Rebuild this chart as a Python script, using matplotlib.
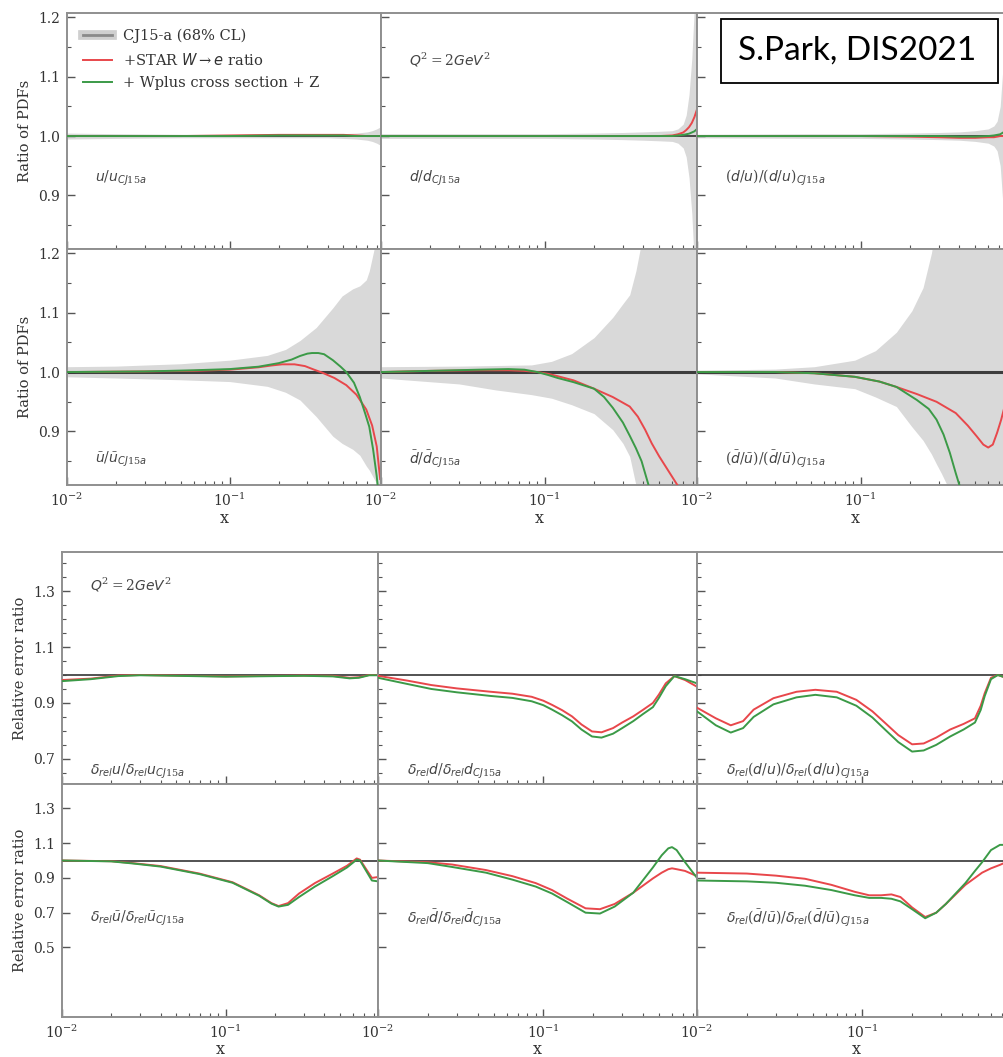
import matplotlib
matplotlib.use('Agg')
import matplotlib.pyplot as plt
from matplotlib.ticker import MultipleLocator, FixedLocator, LogLocator, NullFormatter, FormatStrFormatter
from matplotlib.lines import Line2D
from matplotlib.patches import Rectangle

# ---------------- data ----------------
# Row 1 : u / u_CJ15a
X_U = [0.01, 0.02, 0.05, 0.1, 0.2, 0.3, 0.4, 0.5, 0.6, 0.7, 0.75, 0.8, 0.85]
U_BAND_UP = [1.005, 1.004, 1.003, 1.003, 1.003, 1.003, 1.003, 1.004, 1.005, 1.007, 1.009, 1.012, 1.016]
U_BAND_LO = [0.995, 0.996, 0.997, 0.997, 0.997, 0.997, 0.997, 0.996, 0.995, 0.993, 0.991, 0.988, 0.984]
U_RED = [1.0, 1.0, 1.0, 1.001, 1.002, 1.002, 1.002, 1.002, 1.001, 1.0, 1.0, 1.0, 1.0]
U_GREEN = [1.0, 1.0, 1.0, 1.0, 1.001, 1.001, 1.001, 1.001, 1.0, 1.0, 1.0, 1.0, 1.0]

# Row 1 : d / d_CJ15a
X_D = [0.01, 0.05, 0.1, 0.2, 0.3, 0.4, 0.5, 0.6, 0.65, 0.7, 0.73, 0.76, 0.79, 0.82, 0.85]
D_BAND_UP = [1.004, 1.004, 1.004, 1.005, 1.006, 1.007, 1.008, 1.009, 1.012, 1.02, 1.035, 1.07, 1.13, 1.22, 1.4]
D_BAND_LO = [0.996, 0.996, 0.996, 0.995, 0.994, 0.993, 0.992, 0.991, 0.988, 0.98, 0.965, 0.93, 0.87, 0.78, 0.6]
D_RED = [1.0, 1.0, 1.0, 1.0, 1.0, 1.0, 1.0, 1.001, 1.003, 1.006, 1.01, 1.015, 1.022, 1.032, 1.045]
D_GREEN = [1.0, 1.0, 1.0, 1.0, 1.0, 1.0, 1.0, 1.0, 1.001, 1.002, 1.003, 1.004, 1.006, 1.008, 1.012]

# Row 1 : (d/u) / (d/u)_CJ15a
X_DU = [0.01, 0.05, 0.1, 0.2, 0.3, 0.4, 0.5, 0.6, 0.65, 0.68, 0.71, 0.74, 0.77, 0.8, 0.85]
DU_BAND_UP = [1.003, 1.004, 1.004, 1.005, 1.006, 1.007, 1.009, 1.012, 1.017, 1.025, 1.05, 1.12, 1.23, 1.35, 1.5]
DU_BAND_LO = [0.997, 0.996, 0.996, 0.995, 0.994, 0.993, 0.991, 0.988, 0.983, 0.975, 0.95, 0.88, 0.77, 0.65, 0.5]
DU_RED = [1.0, 1.0, 1.0, 0.999, 0.998, 0.997, 0.997, 0.998, 0.998, 0.999, 1.0, 1.0, 1.002, 1.004, 1.006]
DU_GREEN = [1.0, 1.0, 1.0, 1.0, 1.0, 0.999, 0.999, 1.0, 1.001, 1.002, 1.003, 1.006, 1.009, 1.012, 1.015]

# Row 2 : ubar
X_UB_BAND = [0.01, 0.02, 0.05, 0.1, 0.17, 0.22, 0.27, 0.34, 0.43, 0.49, 0.57, 0.63, 0.69, 0.72, 0.79, 0.85]
UB_BAND_UP = [1.009, 1.01, 1.014, 1.02, 1.028, 1.038, 1.053, 1.075, 1.108, 1.128, 1.14, 1.145, 1.155, 1.17, 1.22, 1.3]
UB_BAND_LO = [0.992, 0.99, 0.987, 0.984, 0.976, 0.966, 0.953, 0.925, 0.892, 0.88, 0.87, 0.86, 0.842, 0.835, 0.815, 0.8]
X_UB_RED = [0.01, 0.03, 0.06, 0.1, 0.15, 0.18, 0.21, 0.25, 0.29, 0.33, 0.37, 0.44, 0.52, 0.6, 0.69, 0.75, 0.8, 0.84]
UB_RED = [1.0, 1.001, 1.002, 1.004, 1.008, 1.011, 1.013, 1.013, 1.01, 1.004, 0.999, 0.99, 0.978, 0.962, 0.937, 0.91, 0.875, 0.82]
X_UB_GREEN = [0.01, 0.03, 0.06, 0.1, 0.15, 0.2, 0.24, 0.27, 0.3, 0.32, 0.35, 0.38, 0.43, 0.48, 0.52, 0.58, 0.63, 0.68, 0.72, 0.76, 0.8, 0.83]
UB_GREEN = [1.0, 1.001, 1.003, 1.005, 1.009, 1.015, 1.021, 1.027, 1.031, 1.032, 1.032, 1.03, 1.02, 1.009, 1.0, 0.982, 0.958, 0.93, 0.908, 0.87, 0.825, 0.78]

# Row 2 : dbar
X_DB_BAND = [0.01, 0.03, 0.05, 0.083, 0.11, 0.146, 0.2, 0.26, 0.3, 0.33, 0.36, 0.41, 0.5, 0.85]
DB_BAND_UP = [1.009, 1.01, 1.011, 1.012, 1.018, 1.031, 1.058, 1.092, 1.115, 1.13, 1.17, 1.25, 1.3, 1.3]
DB_BAND_LO = [0.99, 0.98, 0.97, 0.962, 0.956, 0.945, 0.93, 0.903, 0.88, 0.858, 0.81, 0.75, 0.7, 0.7]
X_DB_RED = [0.01, 0.02, 0.04, 0.06, 0.075, 0.09, 0.105, 0.12, 0.15, 0.2, 0.26, 0.33, 0.37, 0.41, 0.45, 0.5, 0.58, 0.68]
DB_RED = [1.0, 1.002, 1.003, 1.003, 1.002, 1.0, 0.997, 0.993, 0.986, 0.972, 0.958, 0.942, 0.925, 0.903, 0.88, 0.858, 0.83, 0.8]
X_DB_GREEN = [0.01, 0.02, 0.04, 0.06, 0.075, 0.09, 0.105, 0.12, 0.15, 0.2, 0.23, 0.26, 0.3, 0.33, 0.36, 0.39, 0.43, 0.46]
DB_GREEN = [1.0, 1.002, 1.004, 1.005, 1.004, 1.0, 0.995, 0.99, 0.983, 0.972, 0.958, 0.94, 0.915, 0.893, 0.872, 0.85, 0.81, 0.78]

# Row 2 : dbar/ubar
X_DUB_BAND = [0.01, 0.03, 0.052, 0.092, 0.123, 0.165, 0.205, 0.24, 0.27, 0.29, 0.31, 0.35, 0.85]
DUB_BAND_UP = [1.003, 1.005, 1.009, 1.02, 1.036, 1.067, 1.103, 1.142, 1.2, 1.25, 1.3, 1.3, 1.3]
DUB_BAND_LO = [0.997, 0.99, 0.98, 0.972, 0.958, 0.942, 0.908, 0.885, 0.862, 0.845, 0.83, 0.8, 0.7]
X_DUB_RED = [0.01, 0.03, 0.052, 0.092, 0.13, 0.165, 0.22, 0.29, 0.38, 0.45, 0.51, 0.56, 0.6, 0.64, 0.68, 0.72, 0.76]
DUB_RED = [1.0, 1.0, 0.998, 0.992, 0.984, 0.975, 0.963, 0.95, 0.931, 0.91, 0.892, 0.878, 0.873, 0.878, 0.898, 0.92, 0.945]
X_DUB_GREEN = [0.01, 0.03, 0.052, 0.092, 0.13, 0.165, 0.22, 0.26, 0.29, 0.32, 0.35, 0.38, 0.4, 0.42]
DUB_GREEN = [1.0, 1.0, 0.998, 0.992, 0.984, 0.975, 0.953, 0.938, 0.92, 0.895, 0.864, 0.83, 0.81, 0.79]

# Row 3 : delta_rel u
X_EU = [0.01, 0.015, 0.022, 0.03, 0.05, 0.1, 0.2, 0.3, 0.45, 0.57, 0.65, 0.75, 0.85]
EU_RED = [0.982, 0.987, 0.998, 1.0, 0.998, 0.995, 0.997, 0.998, 0.997, 0.99, 0.992, 1.0, 1.0]
EU_GREEN = [0.978, 0.985, 0.996, 0.999, 0.997, 0.994, 0.996, 0.997, 0.995, 0.988, 0.99, 0.999, 0.999]

# Row 3 : delta_rel d
X_ED = [0.01, 0.015, 0.021, 0.03, 0.048, 0.065, 0.085, 0.1, 0.113, 0.13, 0.149, 0.17, 0.197, 0.225, 0.264, 0.3, 0.35, 0.4, 0.46, 0.5, 0.55, 0.62, 0.72, 0.85]
ED_RED = [0.997, 0.98, 0.964, 0.952, 0.94, 0.933, 0.922, 0.908, 0.893, 0.874, 0.852, 0.823, 0.798, 0.795, 0.81, 0.83, 0.852, 0.875, 0.9, 0.93, 0.97, 0.996, 0.982, 0.958]
ED_GREEN = [0.99, 0.968, 0.95, 0.938, 0.925, 0.918, 0.906, 0.892, 0.876, 0.856, 0.834, 0.805, 0.78, 0.776, 0.79, 0.81, 0.835, 0.86, 0.885, 0.918, 0.96, 0.996, 0.985, 0.97]

# Row 3 : delta_rel (d/u)
X_EDU = [0.01, 0.013, 0.016, 0.019, 0.022, 0.029, 0.04, 0.052, 0.07, 0.092, 0.115, 0.137, 0.165, 0.2, 0.235, 0.28, 0.34, 0.41, 0.48, 0.52, 0.55, 0.6, 0.66, 0.74]
EDU_RED = [0.883, 0.845, 0.82, 0.835, 0.876, 0.917, 0.94, 0.947, 0.94, 0.911, 0.87, 0.829, 0.785, 0.752, 0.755, 0.776, 0.805, 0.825, 0.845, 0.89, 0.935, 0.99, 1.0, 0.99]
EDU_GREEN = [0.87, 0.82, 0.794, 0.81, 0.85, 0.895, 0.92, 0.929, 0.92, 0.89, 0.848, 0.805, 0.76, 0.726, 0.73, 0.75, 0.78, 0.805, 0.83, 0.875, 0.925, 0.985, 1.0, 0.99]

# Row 4 : delta_rel ubar
X_EUB = [0.01, 0.02, 0.027, 0.04, 0.069, 0.11, 0.16, 0.19, 0.21, 0.24, 0.28, 0.35, 0.45, 0.55, 0.63, 0.66, 0.72, 0.78, 0.85]
EUB_RED = [1.0, 0.996, 0.985, 0.968, 0.925, 0.875, 0.8, 0.755, 0.738, 0.755, 0.81, 0.87, 0.925, 0.97, 1.012, 1.005, 0.95, 0.9, 0.905]
EUB_GREEN = [1.0, 0.995, 0.983, 0.965, 0.922, 0.872, 0.797, 0.752, 0.735, 0.745, 0.79, 0.85, 0.91, 0.96, 1.005, 1.0, 0.94, 0.885, 0.88]

# Row 4 : delta_rel dbar
X_EDB = [0.01, 0.02, 0.028, 0.045, 0.065, 0.09, 0.113, 0.14, 0.18, 0.22, 0.27, 0.35, 0.46, 0.52, 0.57, 0.6, 0.64, 0.72, 0.85]
EDB_RED = [1.0, 0.99, 0.977, 0.945, 0.91, 0.87, 0.83, 0.78, 0.725, 0.72, 0.75, 0.815, 0.897, 0.93, 0.95, 0.955, 0.95, 0.94, 0.91]
EDB_GREEN = [1.0, 0.985, 0.963, 0.93, 0.89, 0.85, 0.81, 0.76, 0.7, 0.695, 0.735, 0.815, 0.96, 1.03, 1.07, 1.077, 1.06, 0.99, 0.9]

# Row 4 : delta_rel (dbar/ubar)
X_EDUB = [0.01, 0.02, 0.03, 0.045, 0.065, 0.09, 0.11, 0.13, 0.15, 0.17, 0.2, 0.24, 0.28, 0.32, 0.42, 0.48, 0.53, 0.6, 0.68, 0.78]
EDUB_RED = [0.93, 0.925, 0.913, 0.895, 0.86, 0.82, 0.8, 0.8, 0.805, 0.79, 0.73, 0.675, 0.7, 0.75, 0.86, 0.9, 0.93, 0.955, 0.975, 1.0]
EDUB_GREEN = [0.885, 0.88, 0.872, 0.855, 0.83, 0.8, 0.785, 0.785, 0.78, 0.765, 0.72, 0.668, 0.7, 0.75, 0.87, 0.94, 0.99, 1.06, 1.09, 1.09]

LEGEND_LABELS = ['CJ15-a (68% CL)', r'+STAR $W\rightarrow e$ ratio', '+ Wplus cross section + Z']
XLIM = (0.01, 0.85)

# ---------------- style ----------------
plt.rcParams['font.family'] = ['DejaVu Serif']
plt.rcParams['mathtext.fontset'] = 'custom'
plt.rcParams['mathtext.rm'] = 'DejaVu Serif'
plt.rcParams['mathtext.it'] = 'DejaVu Sans:italic'
plt.rcParams['mathtext.bf'] = 'DejaVu Serif:bold'
plt.rcParams['mathtext.sf'] = 'DejaVu Sans'

RED = '#e8474b'
GREEN = '#3b9a47'
BAND = '#d9d9d9'
SPINE = '#8f8f8f'
TXT = '#333333'

W, H = 1004, 1057
fig = plt.figure(figsize=(W / 100, H / 100), dpi=100)
fig.patch.set_facecolor('white')


def add_ax(l, r, t, b):
    return fig.add_axes([l / W, 1 - b / H, (r - l) / W, (b - t) / H])


def style(ax, ylim, ymajor, yminor, show_y, show_x):
    ax.set_xscale('log')
    ax.set_xlim(*XLIM)
    ax.set_ylim(*ylim)
    ax.xaxis.set_major_locator(LogLocator(base=10))
    ax.xaxis.set_minor_locator(LogLocator(base=10, subs=range(2, 10)))
    ax.xaxis.set_minor_formatter(NullFormatter())
    ax.yaxis.set_major_locator(FixedLocator(ymajor))
    if yminor:
        ax.yaxis.set_minor_locator(MultipleLocator(yminor))
    ax.yaxis.set_major_formatter(FormatStrFormatter('%.1f'))
    for s in ax.spines.values():
        s.set_color(SPINE)
        s.set_linewidth(1.4)
    ax.tick_params(which='both', direction='in', top=False, right=False,
                   colors='#555555', labelcolor=TXT, labelsize=10)
    ax.tick_params(which='major', length=6, width=1.0, pad=5)
    ax.tick_params(which='minor', length=3, width=0.8)
    if not show_y:
        ax.tick_params(axis='y', labelleft=False)
    if not show_x:
        ax.tick_params(axis='x', labelbottom=False)


def annotate(ax, x, y, s, size=10):
    ax.text(x, y, s, transform=ax.transAxes, fontsize=size, color='#444444',
            ha='left', va='center')


top_cols = [(67, 381), (381, 697), (697, 1013)]
top_rows = [(13, 249), (249, 485)]
bot_cols = [(62, 378), (378, 697), (697, 1016)]
bot_rows = [(552, 784), (784, 1017)]

top_data = [
    [(X_U, U_BAND_UP, U_BAND_LO, X_U, U_RED, X_U, U_GREEN),
     (X_D, D_BAND_UP, D_BAND_LO, X_D, D_RED, X_D, D_GREEN),
     (X_DU, DU_BAND_UP, DU_BAND_LO, X_DU, DU_RED, X_DU, DU_GREEN)],
    [(X_UB_BAND, UB_BAND_UP, UB_BAND_LO, X_UB_RED, UB_RED, X_UB_GREEN, UB_GREEN),
     (X_DB_BAND, DB_BAND_UP, DB_BAND_LO, X_DB_RED, DB_RED, X_DB_GREEN, DB_GREEN),
     (X_DUB_BAND, DUB_BAND_UP, DUB_BAND_LO, X_DUB_RED, DUB_RED, X_DUB_GREEN, DUB_GREEN)],
]
top_text = [
    [r'$\mathit{u/u}_{\mathit{CJ15a}}$', r'$\mathit{d/d}_{\mathit{CJ15a}}$',
     r'$\mathit{(d/u)/(d/u)}_{\mathit{CJ15a}}$'],
    [r'$\bar{u}\mathit{/}\bar{u}_{\mathit{CJ15a}}$', r'$\bar{d}\mathit{/}\bar{d}_{\mathit{CJ15a}}$',
     r'$\mathit{(}\bar{d}\mathit{/}\bar{u}\mathit{)/(}\bar{d}\mathit{/}\bar{u}\mathit{)}_{\mathit{CJ15a}}$'],
]
top_text_y = [0.30, 0.11]

for i, (t, b) in enumerate(top_rows):
    for j, (l, r) in enumerate(top_cols):
        ax = add_ax(l, r, t, b)
        style(ax, (0.81, 1.207), [0.9, 1.0, 1.1, 1.2], 0.05, j == 0, i == 1)
        xb, bu, bl, xr, yr, xg, yg = top_data[i][j]
        ax.fill_between(xb, bl, bu, color=BAND, lw=0, zorder=1)
        ax.axhline(1.0, color='#222222', lw=1.3 if i == 0 else 2.2, zorder=2, alpha=0.85)
        ax.plot(xr, yr, color=RED, lw=1.4, zorder=3)
        ax.plot(xg, yg, color=GREEN, lw=1.4, zorder=4)
        annotate(ax, 0.09, top_text_y[i], top_text[i][j])
        if i == 0 and j == 1:
            annotate(ax, 0.09, 0.80, r'$Q^{\mathit{2}}=\mathit{2GeV}^{\mathit{2}}$')
        if i == 0 and j == 0:
            band_handle = (Line2D([], [], color='#cfcfcf', lw=7),
                           Line2D([], [], color='#8a8a8a', lw=2))
            handles = [band_handle, Line2D([], [], color=RED, lw=1.4),
                       Line2D([], [], color=GREEN, lw=1.4)]
            leg = ax.legend(handles, LEGEND_LABELS, loc='upper left',
                            bbox_to_anchor=(0.01, 0.99), frameon=False,
                            fontsize=10.5, handlelength=2.0, labelspacing=0.6,
                            handletextpad=0.75)
            for txt in leg.get_texts():
                txt.set_color(TXT)
        if i == 1:
            fig.text((l + r) / 2 / W, 1 - 518 / H, 'x', ha='center', va='center',
                     fontsize=11.5, color=TXT)
    fig.text(25 / W, 1 - (t + b) / 2 / H, 'Ratio of PDFs', rotation=90,
             ha='center', va='center', fontsize=10.5, color=TXT)

bot_data = [
    [(X_EU, EU_RED, EU_GREEN), (X_ED, ED_RED, ED_GREEN), (X_EDU, EDU_RED, EDU_GREEN)],
    [(X_EUB, EUB_RED, EUB_GREEN), (X_EDB, EDB_RED, EDB_GREEN), (X_EDUB, EDUB_RED, EDUB_GREEN)],
]
bot_text = [
    [r'$\delta_{\mathit{rel}}\mathit{u/}\delta_{\mathit{rel}}\mathit{u}_{\mathit{CJ15a}}$',
     r'$\delta_{\mathit{rel}}\mathit{d/}\delta_{\mathit{rel}}\mathit{d}_{\mathit{CJ15a}}$',
     r'$\delta_{\mathit{rel}}\mathit{(d/u)/}\delta_{\mathit{rel}}\mathit{(d/u)}_{\mathit{CJ15a}}$'],
    [r'$\delta_{\mathit{rel}}\bar{u}\mathit{/}\delta_{\mathit{rel}}\bar{u}_{\mathit{CJ15a}}$',
     r'$\delta_{\mathit{rel}}\bar{d}\mathit{/}\delta_{\mathit{rel}}\bar{d}_{\mathit{CJ15a}}$',
     r'$\delta_{\mathit{rel}}\mathit{(}\bar{d}\mathit{/}\bar{u}\mathit{)/}\delta_{\mathit{rel}}\mathit{(}\bar{d}\mathit{/}\bar{u}\mathit{)}_{\mathit{CJ15a}}$'],
]
bot_text_y = [0.055, 0.425]
bot_ylim = [(0.61, 1.44), (0.1, 1.44)]
bot_major = [[0.7, 0.9, 1.1, 1.3], [0.5, 0.7, 0.9, 1.1, 1.3]]
bot_minor = [0.05, None]

for i, (t, b) in enumerate(bot_rows):
    for j, (l, r) in enumerate(bot_cols):
        ax = add_ax(l, r, t, b)
        style(ax, bot_ylim[i], bot_major[i], bot_minor[i], j == 0, i == 1)
        xx, yr, yg = bot_data[i][j]
        ax.axhline(1.0, color='#444444', lw=1.3, zorder=2)
        ax.plot(xx, yr, color=RED, lw=1.4, zorder=3)
        ax.plot(xx, yg, color=GREEN, lw=1.4, zorder=4)
        annotate(ax, 0.09, bot_text_y[i], bot_text[i][j])
        if i == 0 and j == 0:
            annotate(ax, 0.09, 0.86, r'$Q^{\mathit{2}}=\mathit{2GeV}^{\mathit{2}}$')
        if i == 1:
            fig.text((l + r) / 2 / W, 1 - 1050 / H, 'x', ha='center', va='center',
                     fontsize=11.5, color=TXT)
    fig.text(20 / W, 1 - (t + b) / 2 / H, 'Relative error ratio', rotation=90,
             ha='center', va='center', fontsize=10.5, color=TXT)

# Conference stamp box
fig.add_artist(Rectangle((721 / W, 1 - 83 / H), (998 - 721) / W, (83 - 19) / H,
                         transform=fig.transFigure, facecolor='white',
                         edgecolor='black', lw=1.3, zorder=10))
fig.text(857 / W, 1 - 51 / H, 'S.Park, DIS2021', ha='center', va='center',
         fontsize=24, family=['Lato', 'DejaVu Sans'], color='black', zorder=11)

fig.savefig('out.png', dpi=100)
